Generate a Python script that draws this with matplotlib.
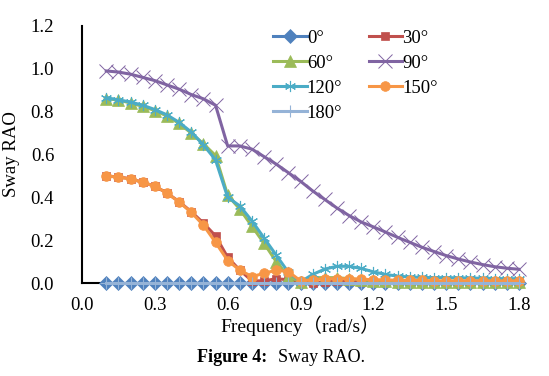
import matplotlib
matplotlib.use("Agg")
import matplotlib.pyplot as plt

freq = [0.10, 0.15, 0.20, 0.25, 0.30, 0.35, 0.40, 0.45, 0.50, 0.55,
        0.60, 0.65, 0.70, 0.75, 0.80, 0.85, 0.90, 0.95, 1.00, 1.05,
        1.10, 1.15, 1.20, 1.25, 1.30, 1.35, 1.40, 1.45, 1.50, 1.55,
        1.60, 1.65, 1.70, 1.75, 1.80]

deg0 = [0.0, 0.0, 0.0, 0.0, 0.0, 0.0, 0.0, 0.0, 0.0, 0.0,
        0.0, 0.0, 0.0, 0.0, 0.0, 0.0, 0.0, 0.0, 0.0, 0.0,
        0.0, 0.0, 0.0, 0.0, 0.0, 0.0, 0.0, 0.0, 0.0, 0.0,
        0.0, 0.0, 0.0, 0.0, 0.0]

deg30 = [0.50, 0.495, 0.487, 0.47, 0.452, 0.42, 0.38, 0.333, 0.28, 0.22,
         0.12, 0.06, 0.01, 0.01, 0.02, 0.015, 0.005, 0.0, 0.005, 0.01,
         0.01, 0.005, 0.005, 0.005, 0.005, 0.005, 0.005, 0.005, 0.005, 0.005,
         0.005, 0.005, 0.005, 0.005, 0.005]

deg60 = [0.86, 0.855, 0.84, 0.825, 0.805, 0.78, 0.745, 0.70, 0.65, 0.595,
         0.41, 0.345, 0.265, 0.185, 0.10, 0.03, 0.005, 0.025, 0.025, 0.025,
         0.02, 0.015, 0.01, 0.008, 0.005, 0.005, 0.005, 0.005, 0.005, 0.005,
         0.005, 0.005, 0.005, 0.005, 0.005]

deg90 = [0.99, 0.985, 0.975, 0.96, 0.945, 0.925, 0.905, 0.88, 0.86, 0.83,
         0.64, 0.64, 0.625, 0.59, 0.555, 0.515, 0.475, 0.43, 0.39, 0.35,
         0.315, 0.285, 0.262, 0.238, 0.213, 0.19, 0.167, 0.147, 0.128, 0.112,
         0.098, 0.086, 0.076, 0.069, 0.064]

deg120 = [0.865, 0.855, 0.845, 0.83, 0.81, 0.785, 0.75, 0.705, 0.645, 0.575,
          0.40, 0.36, 0.29, 0.21, 0.13, 0.05, 0.005, 0.04, 0.065, 0.078,
          0.078, 0.068, 0.052, 0.04, 0.032, 0.028, 0.026, 0.025, 0.025, 0.024,
          0.023, 0.022, 0.021, 0.02, 0.02]

deg150 = [0.50, 0.494, 0.486, 0.47, 0.452, 0.42, 0.378, 0.33, 0.27, 0.19,
          0.105, 0.06, 0.03, 0.045, 0.06, 0.053, 0.01, 0.015, 0.02, 0.02,
          0.02, 0.018, 0.015, 0.015, 0.012, 0.012, 0.012, 0.01, 0.01, 0.01,
          0.01, 0.01, 0.01, 0.01, 0.01]

deg180 = [0.0, 0.0, 0.0, 0.0, 0.0, 0.0, 0.0, 0.0, 0.0, 0.0,
          0.0, 0.0, 0.0, 0.0, 0.0, 0.0, 0.0, 0.0, 0.0, 0.0,
          0.0, 0.0, 0.0, 0.0, 0.0, 0.0, 0.0, 0.0, 0.0, 0.0,
          0.0, 0.0, 0.0, 0.0, 0.0]

labels = ["0°", "30°", "60°", "90°", "120°", "150°", "180°"]
xticks = [0.0, 0.3, 0.6, 0.9, 1.2, 1.5, 1.8]
yticks = [0.0, 0.2, 0.4, 0.6, 0.8, 1.0, 1.2]

serif = ["Liberation Serif", "DejaVu Serif"]
cjk = ["Liberation Serif", "Noto Sans CJK SC"]
plt.rcParams["font.family"] = serif

fig = plt.figure(figsize=(5.49, 3.76), dpi=100)
ax = fig.add_axes([82 / 549, 1 - 283 / 376, 437 / 549, 257 / 376])

styles = [
    dict(color="#4F81BD", marker="D", ms=7, mew=0.5, mec="#4F81BD"),
    dict(color="#C0504D", marker="s", ms=6, mew=0.5, mec="#C0504D"),
    dict(color="#9BBB59", marker="^", ms=8.5, mew=0.5, mec="#9BBB59"),
    dict(color="#8064A2", marker="x", ms=10, mew=0.7, mec="#8064A2"),
    dict(color="#4BACC6", marker=(6, 2, 0), ms=8, mew=0.8, mec="#4BACC6"),
    dict(color="#F79646", marker="o", ms=7, mew=0.5, mec="#F79646"),
    dict(color="#95B3D7", marker="+", ms=8, mew=0.8, mec="#95B3D7"),
]
series = [deg0, deg30, deg60, deg90, deg120, deg150, deg180]

handles = []
for i, (vals, st, lab) in enumerate(zip(series, styles, labels)):
    ln, = ax.plot(freq, vals, lw=2.2, label=lab, clip_on=False,
                  zorder=3 + i, **st)
    handles.append(ln)

ax.set_xlim(0, 1.8)
ax.set_ylim(0, 1.2)
ax.set_xticks(xticks)
ax.set_yticks(yticks)
ax.set_xticklabels([f"{v:.1f}" for v in xticks])
ax.set_yticklabels([f"{v:.1f}" for v in yticks])
ax.tick_params(length=0, labelsize=13.5, pad=10)
ax.tick_params(axis="y", pad=20)
for s in ["top", "right"]:
    ax.spines[s].set_visible(False)
for s in ["left", "bottom"]:
    ax.spines[s].set_linewidth(1.5)
    ax.spines[s].set_color("black")

ax.set_xlabel("Frequency（rad/s）", fontsize=14, family=cjk, labelpad=1)
ax.set_ylabel("Sway RAO", fontsize=13.5, labelpad=8)

order = [0, 2, 4, 6, 1, 3, 5]
leg = ax.legend([handles[i] for i in order], [labels[i] for i in order],
                ncol=2, loc="upper left", bbox_to_anchor=(0.42, 1.015),
                frameon=False, fontsize=13.5, handlelength=1.8,
                handletextpad=0.0, columnspacing=1.4, labelspacing=0.42,
                borderaxespad=0)

fig.text(267 / 549, 1 - 357 / 376, "Figure 4:", fontsize=13, fontweight="bold",
         ha="right", va="center")
fig.text(278 / 549, 1 - 357 / 376, "Sway RAO.", fontsize=13,
         ha="left", va="center")

fig.savefig("out.png", dpi=100)
